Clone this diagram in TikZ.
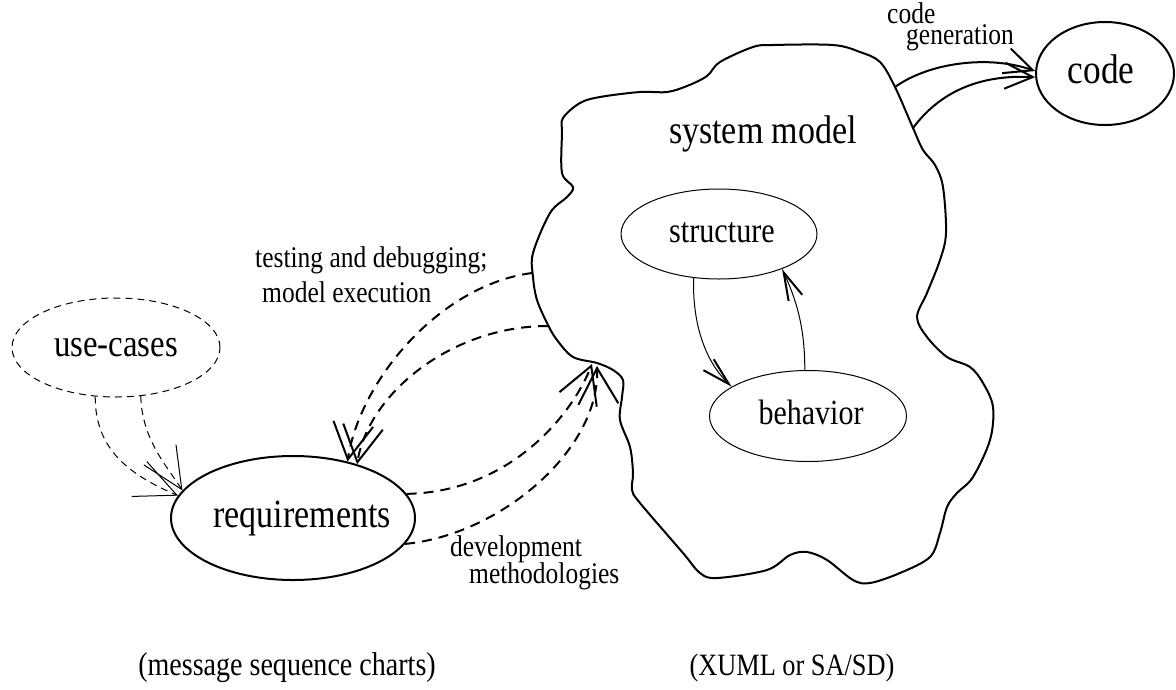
\documentclass[tikz,border=0pt]{standalone}
\usepackage{fontspec}
\setmainfont{Liberation Serif}[FakeStretch=0.85]
\usetikzlibrary{shapes.geometric,arrows.meta}
\newcommand{\ctext}[1]{\makebox[0pt]{\raisebox{-0.5ex}[0pt][0pt]{#1}}}
\tikzset{
  ell/.style={ellipse, draw, inner sep=0pt},
  thickline/.style={line width=2pt},
  thinline/.style={line width=1pt},
  bigdash/.style={line width=2pt, dash pattern=on 10pt off 7pt},
  smalldash/.style={line width=1pt, dash pattern=on 7pt off 5pt},
  bigarrow/.style={-{Straight Barb[length=36pt,width=40pt]}},
  codearrow/.style={-{Straight Barb[length=28pt,width=26pt]}},
  innerarrow/.style={-{Straight Barb[length=28pt,width=15pt,line width=2pt]}},
  ucarrow/.style={-{Straight Barb[length=41pt,width=38pt]}},
  lbl/.style={font=\fontsize{30}{36}\selectfont, inner sep=0pt, anchor=base west},
  captext/.style={inner sep=0pt, anchor=base},
}
\begin{document}
\begin{tikzpicture}[x=1pt,y=-1pt]
\useasboundingbox (0,0) rectangle (1176,689);

% cloud (system model)
\draw[thickline] plot[smooth cycle, tension=0.55] coordinates {
 (563,118) (580,103) (600,97) (640,92) (667,92) (687,86) (707,76) (720,62)
 (753,47) (773,45) (833,45) (860,52) (880,62) (895,87) (913,128) (923,150)
 (935,165) (943,187) (946,233) (940,260) (927,293) (917,317) (927,337)
 (947,357) (970,367) (983,383) (993,407) (990,440) (973,477) (957,493)
 (947,507) (940,533) (930,557) (900,573) (870,583) (853,580) (827,560)
 (807,552) (790,555) (767,570) (717,578) (700,573) (683,553) (640,503)
 (632,490) (633,473) (630,447) (620,420) (622,397) (623,380) (613,370)
 (597,363) (573,357) (557,340) (548,325) (537,300) (533,277) (533,253)
 (550,213) (567,197) (573,187) (562,173) (562,133)};

\coordinate (c1) at (532,273);
\coordinate (c2) at (548,326);
\coordinate (c3a) at (592,364);
\coordinate (c3b) at (597,366);
\coordinate (g1) at (895,87);
\coordinate (g2) at (913,128);

% nodes
\node[ell, thickline, minimum width=244pt, minimum height=124pt,
      font=\fontsize{40}{48}\selectfont] (req) at (293,518)
      {\ctext{\hspace{18pt}requirements}};
\node[ell, smalldash, minimum width=208pt, minimum height=99pt,
      font=\fontsize{38.6}{46}\selectfont] (uc) at (116,347.5)
      {\ctext{use-cases}};
\node[ell, thinline, minimum width=196pt, minimum height=90pt,
      font=\fontsize{35.5}{42}\selectfont] (st) at (719,234)
      {\ctext{\hspace{6pt}structure}};
\node[ell, thinline, minimum width=197pt, minimum height=91pt,
      font=\fontsize{35.3}{42}\selectfont] (beh) at (808,416)
      {\ctext{\hspace{6pt}behavior}};
\node[ell, thickline, minimum width=138pt, minimum height=103pt,
      font=\fontsize{41.5}{50}\selectfont] (code) at (1105,73.5)
      {\ctext{code\hspace{8pt}}};

\node[captext, font=\fontsize{40}{48}\selectfont] (sm) at (763,143) {system model};

% labels
\node[lbl] (l1) at (255,267) {testing and debugging;};
\node[lbl] (l2) at (262,302) {model execution};
\node[inner sep=0pt, anchor=north west, align=left,
      font=\fontsize{30}{21}\selectfont] (l3) at (887,2)
      {code\\\hspace*{19pt}generation};
\node[lbl] (l5) at (450,556) {development};
\node[lbl] (l6) at (469,583) {methodologies};

\node[captext, font=\fontsize{33}{40}\selectfont] (cap1) at (287,675) {(message sequence charts)};
\node[captext, font=\fontsize{31}{38}\selectfont] (cap2) at (792,675) {(XUML or SA/SD)};

% connectors
\draw[bigdash, bigarrow] (c1) .. controls (440,285) and (360,380) .. (req.46);
\draw[bigdash, bigarrow] (c2) .. controls (450,326) and (368,395) .. (req.40);
\draw[bigdash, bigarrow] (req.12) .. controls (510,492) and (572,415) .. (c3a);
\draw[bigdash, bigarrow] (req.-13) .. controls (500,535) and (600,450) .. (c3b);

\draw[thickline, codearrow] (g1) .. controls (930,62) and (990,55) .. (code.178);
\draw[thickline, codearrow] (g2) .. controls (945,85) and (990,75) .. (code.183);

\draw[thinline, innerarrow] (st.240) .. controls (692,335) and (712,368) .. (beh.159);
\draw[thinline, innerarrow] (beh.94) .. controls (805,325) and (795,297) .. (st.331);

\draw[smalldash, ucarrow] (uc.247) .. controls (95,450) and (130,475) .. (req.169);
\draw[smalldash, ucarrow] (uc.297) .. controls (142,440) and (167,466) .. (req.166);
\end{tikzpicture}
\end{document}
